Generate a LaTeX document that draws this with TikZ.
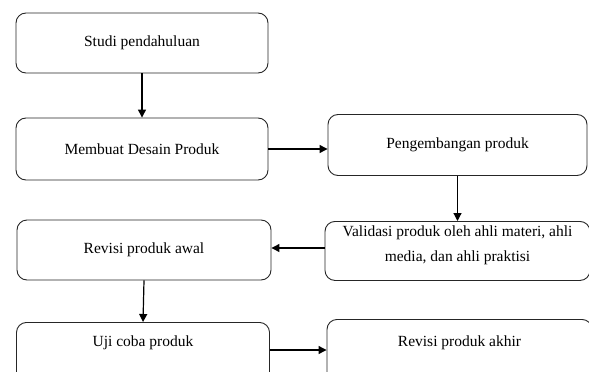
\documentclass[tikz,border=0pt]{standalone}
\usepackage{fontspec}
\setmainfont{Liberation Serif}
\usepackage{tikz}
\usetikzlibrary{arrows.meta}
\tikzstyle{box} = [draw=black!85,line width=0.9pt,rounded corners=10pt,align=center,inner sep=0pt,font=\fontsize{15.5}{25}\selectfont]
\tikzstyle{flow} = [line width=1.2pt,-{Triangle[length=8pt,width=8pt]}]

\begin{document}
\begin{tikzpicture}[x=1pt,y=-1pt]
          \useasboundingbox (0,0) rectangle (589,372);
          % boxes
          \node[box,minimum width=252pt,minimum height=60pt] (studi) at (142,43) {Studi pendahuluan};
          \node[box,minimum width=252pt,minimum height=62pt] (desain) at (142,149) {Membuat Desain Produk};
          \node[box,minimum width=259pt,minimum height=61pt] (kembang) at (457.5,145) {Pengembangan produk};
          \node[box,minimum width=265pt,anchor=north,text height=40pt,text depth=19pt] (validasi) at (457.5,221) {Validasi produk oleh ahli materi, ahli\\media, dan ahli praktisi};
          \node[box,minimum width=254pt,minimum height=60pt] (revawal) at (144,250) {Revisi produk awal};
          \node[box,minimum width=253pt,anchor=north,inner ysep=13pt,text height=11pt,text depth=45pt] (uji) at (143,322) {Uji coba produk};
          \node[box,minimum width=265pt,anchor=north,inner ysep=16pt,text height=11pt,text depth=45pt] (revakhir) at (459.5,319) {Revisi produk akhir};
          % arrows
          \draw[flow] (studi.south) -- (desain.north);
          \draw[flow] (desain.east) -- (desain.east -| kembang.west);
          \draw[flow] (kembang.south) -- (validasi.north);
          \draw[flow] (validasi.west |- 0,248) -- (revawal.east |- 0,248);
          \draw[flow] (revawal.south) -- (uji.north);
          \draw[flow] (uji.east |- 0,350) -- (revakhir.west |- 0,350);
\end{tikzpicture}
\end{document}
